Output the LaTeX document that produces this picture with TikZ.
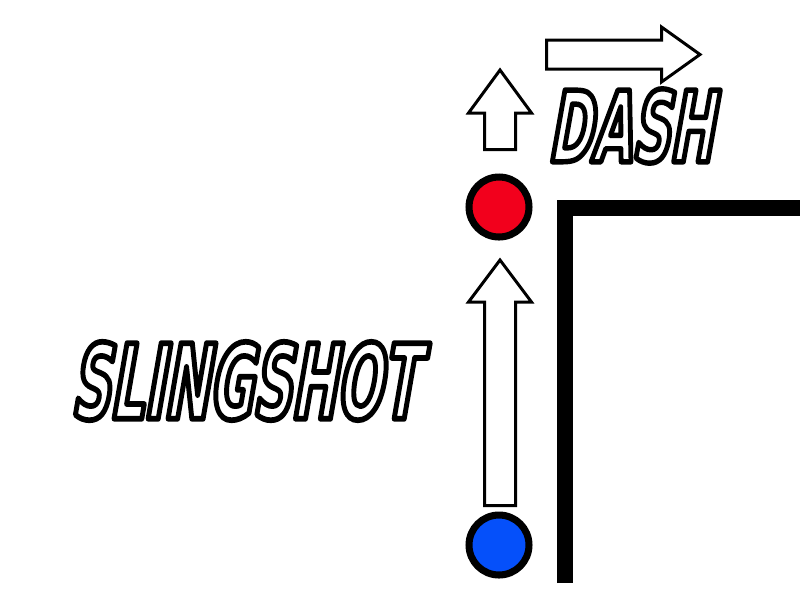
\documentclass[tikz,border=0pt]{standalone}
\usepackage{xcolor}
\usepackage{graphicx}
\usepackage{fontspec}
\usetikzlibrary{calc,positioning}
\newfontfamily\comicfont{DejaVu Sans}[FakeStretch=0.6,FakeSlant=0.2]
\newcommand\outlined[1]{\special{pdf:literal direct 1 Tr 0.55 w 1 j}#1\special{pdf:literal direct 0 Tr}}
\definecolor{ballred}{RGB}{242,0,28}
\definecolor{ballblue}{RGB}{5,80,250}

\begin{document}
\begin{tikzpicture}[x=0.02cm, y=-0.02cm, line width=1.7pt,
    ball/.style={circle, draw=black, line width=4pt, minimum size=1.2cm, inner sep=0pt},
    hollow/.style={draw=black, fill=white, line join=miter},
    word/.style={inner sep=0pt, font=\comicfont\bfseries, text=black}]
    			% Frame (pixel grid, y downwards)
    			\useasboundingbox (0,0) rectangle (800,600);
    			
    			% Parameters
    			\def\ax{500}   % axis of the up arrows
    			\def\sh{15.5}  % half width of shaft
    			\def\hd{31.5}  % half width of head
    			
    			% Balls
    			\node[ball, fill=ballred] (red) at (499,207) {};
    			\node[ball, fill=ballblue] (blue) at (499,545) {};
    			
    			% Wall
    			\draw[line width=9.1pt, line join=miter] (565,583) -- (565,208) -- (800,208);
    			
    			% Slingshot arrow (blue up to red)
    			\draw[hollow] (\ax-\sh,505.5) -- (\ax-\sh,302) -- (\ax-\hd,302) -- (\ax,260)
    			  -- (\ax+\hd,302) -- (\ax+\sh,302) -- (\ax+\sh,505.5) -- cycle;
    			
    			% Small up arrow above red
    			\draw[hollow] (\ax-\sh,149.5) -- (\ax-\sh,113) -- (\ax-\hd,113) -- (\ax,70)
    			  -- (\ax+\hd,113) -- (\ax+\sh,113) -- (\ax+\sh,149.5) -- cycle;
    			
    			% Dash arrow to the right
    			\draw[hollow] (546.5,40) -- (661.5,40) -- (661.5,27) -- (700,54.5)
    			  -- (661.5,82) -- (661.5,69) -- (546.5,69) -- cycle;
    			
    			% Labels
    			\node[word] (slingshot) at (244,381)
    			  {\resizebox{6.94cm}{1.54cm}{\outlined{SLINGSHOT}}};
    			\node[word] (dash) at (630,126)
    			  {\resizebox{3.3cm}{1.46cm}{\outlined{DASH}}};
    		\end{tikzpicture}
\end{document}
